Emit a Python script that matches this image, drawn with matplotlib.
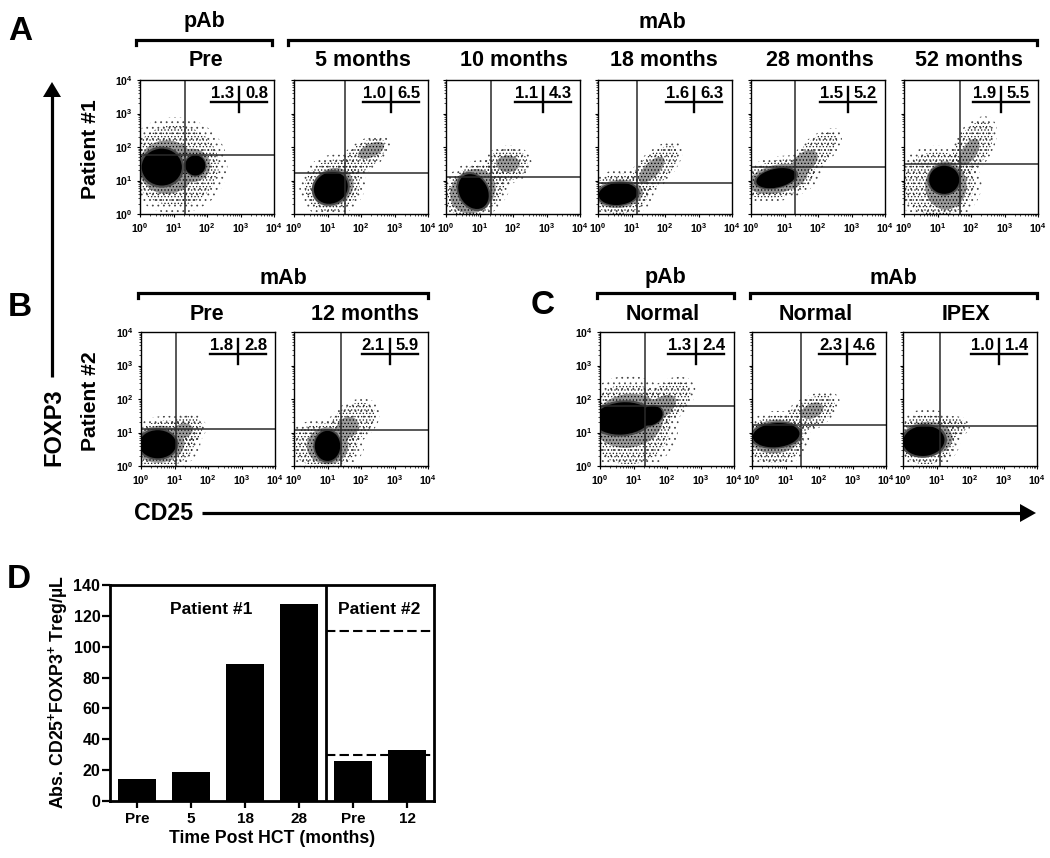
import matplotlib
matplotlib.use('Agg')
import numpy as np
import matplotlib.pyplot as plt
from matplotlib.patches import Ellipse, Polygon

plt.rcParams['font.family'] = ['Liberation Sans', 'DejaVu Sans']
plt.rcParams['font.weight'] = 'bold'
plt.rcParams['axes.labelweight'] = 'bold'
plt.rcParams['mathtext.fontset'] = 'custom'
plt.rcParams['mathtext.rm'] = 'Liberation Sans:bold'
plt.rcParams['mathtext.default'] = 'rm'
plt.rcParams['hatch.linewidth'] = 0.55

W, H = 1050, 858

# quadrantes (percentagens em cima, à esquerda | à direita)
titles = ['Pre', '5 months', '10 months', '18 months', '28 months', '52 months',
          'Pre', '12 months', 'Normal', 'Normal', 'IPEX']
stat_left = ['1.3', '1.0', '1.1', '1.6', '1.5', '1.9', '1.8', '2.1', '1.3', '2.3', '1.0']
stat_right = ['0.8', '6.5', '4.3', '6.3', '5.2', '5.5', '2.8', '5.9', '2.4', '4.6', '1.4']
gate_x = [1.35, 1.52, 1.34, 1.15, 1.32, 1.68, 1.05, 1.41, 1.34, 1.45, 1.10]
gate_y = [1.77, 1.21, 1.09, 0.93, 1.40, 1.49, 1.10, 1.07, 1.80, 1.23, 1.18]
ylabel_panels = [0, 6, 8]

# populações estimadas em décadas: x, y, raio x, raio y, ângulo, nível (0 ralo, 1 denso, 2 preto)
clouds = [
    [(1.05, 1.45, 1.3, 1.2, 0, 0), (0.8, 1.4, 0.85, 0.8, 0, 1), (1.55, 1.45, 0.55, 0.5, 0, 1),
     (0.65, 1.4, 0.6, 0.55, 0, 2), (1.65, 1.45, 0.3, 0.3, 0, 2)],
    [(1.15, 0.85, 0.85, 0.75, 30, 0), (2.05, 1.7, 0.8, 0.38, 35, 0), (1.15, 0.8, 0.65, 0.55, 30, 1),
     (2.3, 1.9, 0.42, 0.2, 25, 1), (1.1, 0.78, 0.52, 0.46, 30, 2)],
    [(0.85, 0.7, 0.95, 0.7, 30, 0), (1.82, 1.47, 0.62, 0.48, 10, 0), (0.8, 0.68, 0.72, 0.62, 40, 1),
     (1.85, 1.5, 0.35, 0.25, 0, 1), (0.82, 0.67, 0.42, 0.55, 30, 2)],
    [(0.65, 0.6, 0.85, 0.6, 5, 0), (1.65, 1.3, 0.95, 0.42, 45, 0), (0.62, 0.6, 0.72, 0.42, 5, 1),
     (1.6, 1.32, 0.5, 0.22, 45, 1), (0.6, 0.6, 0.58, 0.33, 5, 2)],
    [(0.8, 1.05, 1.1, 0.55, 12, 0), (1.9, 1.8, 0.85, 0.38, 42, 0), (0.8, 1.05, 0.9, 0.42, 12, 1),
     (1.6, 1.55, 0.45, 0.28, 40, 1), (0.75, 1.07, 0.6, 0.28, 12, 2)],
    [(1.0, 0.9, 1.1, 0.95, 0, 0), (2.05, 2.0, 0.85, 0.48, 58, 0), (1.25, 0.85, 0.62, 0.72, 0, 1),
     (1.95, 1.85, 0.45, 0.22, 58, 1), (1.2, 1.02, 0.45, 0.42, 0, 2)],
    [(0.65, 0.65, 0.95, 0.7, 10, 0), (1.3, 1.05, 0.55, 0.42, 20, 0), (0.55, 0.65, 0.75, 0.55, 5, 1),
     (1.25, 1.05, 0.3, 0.22, 15, 1), (0.5, 0.65, 0.55, 0.42, 0, 2)],
    [(0.9, 0.62, 1.0, 0.65, 0, 0), (1.75, 1.3, 0.75, 0.5, 35, 0), (1.0, 0.6, 0.62, 0.55, 0, 1),
     (1.6, 1.15, 0.35, 0.3, 40, 1), (1.0, 0.6, 0.38, 0.45, 0, 2)],
    [(0.85, 1.25, 1.25, 1.2, 0, 0), (1.95, 1.9, 0.85, 0.5, 35, 0), (0.85, 1.35, 1.05, 0.8, 10, 1),
     (1.75, 1.7, 0.6, 0.3, 35, 1), (0.67, 1.42, 0.85, 0.48, 5, 2), (1.5, 1.5, 0.38, 0.28, 20, 2)],
    [(0.7, 0.8, 0.85, 0.7, 10, 0), (1.7, 1.55, 0.85, 0.42, 30, 0), (0.7, 0.88, 0.78, 0.5, 5, 1),
     (1.8, 1.65, 0.35, 0.22, 25, 1), (0.72, 0.92, 0.7, 0.36, 5, 2)],
    [(0.7, 0.8, 0.85, 0.75, 5, 0), (1.35, 1.12, 0.55, 0.3, 10, 0), (0.7, 0.8, 0.78, 0.52, 5, 1),
     (0.62, 0.75, 0.62, 0.45, 5, 2)],
]

# gráfico de barras (D)
bar_labels = ['Pre', '5', '18', '28', 'Pre', '12']
bar_values = [14.5, 18.5, 89, 128, 26, 33]
normal_range = [30, 110.5]

# posição dos painéis em pixels
panel_left = [140, 294, 446, 598, 751, 904, 141, 294, 600, 752, 903]
panel_top = [80, 80, 80, 80, 80, 80, 332, 332, 332, 332, 332]
title_x = [206, 363, 514, 664, 820, 969, 207, 365, 663, 816, 966]
stat_x = [239, 391, 543, 694, 848, 1001, 238, 390, 696, 847, 999]
panel_size = 134

fig = plt.figure(figsize=(W / 100, H / 100), dpi=100, facecolor='white')


def px_axes(left, top, width, height):
    return fig.add_axes([left / W, 1 - (top + height) / H, width / W, height / H])


def blob(ax, c, scale=1.0, **kw):
    ax.add_patch(Ellipse((c[0], c[1]), 2 * c[2] * scale, 2 * c[3] * scale, angle=c[4], lw=0, **kw))


minor = [d + np.log10(m) for d in range(4) for m in range(2, 10)]

for i in range(len(titles)):
    ax = px_axes(panel_left[i], panel_top[i], panel_size, panel_size)
    ax.set_xlim(0, 4)
    ax.set_ylim(0, 4)
    # do mais ralo para o mais escuro; as margens primeiro, para não riscar os núcleos
    sparse = [c for c in clouds[i] if c[5] == 0]
    dense = [c for c in clouds[i] if c[5] == 1]
    core = [c for c in clouds[i] if c[5] == 2]
    for c in sparse:
        blob(ax, c, 1.2, fc='none', ec='#444444', hatch='...')
    for c in sparse:
        blob(ax, c, 1.0, fc='none', ec='#222222', hatch='.....')
    for c in dense:
        blob(ax, c, 1.0, fc='#9a9a9a', ec='black', hatch='.....')
    for c in core:
        blob(ax, c, 1.12, fc='#4a4a4a', ec='none')
    for c in core:
        blob(ax, c, 1.0, fc='black', ec='none')
    ax.axvline(gate_x[i], color='#2a2a2a', lw=1.1)
    ax.axhline(gate_y[i], color='#2a2a2a', lw=1.1)
    ax.set_xticks(range(5))
    ax.set_yticks(range(5))
    ax.set_xticklabels(['$10^{%d}$' % d for d in range(5)], fontsize=7.6)
    if i in ylabel_panels:
        ax.set_yticklabels(['$10^{%d}$' % d for d in range(5)], fontsize=7.6)
    else:
        ax.set_yticklabels([])
    ax.set_xticks(minor, minor=True)
    ax.set_yticks(minor, minor=True)
    ax.tick_params(which='major', length=2.5, width=0.8, pad=3)
    ax.tick_params(which='minor', length=1.3, width=0.5)
    for s in ax.spines.values():
        s.set_linewidth(1.0)

# eixo D
ax = px_axes(110, 585, 324, 216)
ax.bar(range(6), bar_values, width=0.72, color='black')
ax.set_xlim(-0.5, 5.5)
ax.set_ylim(0, 140)
ax.axvline(3.5, color='black', lw=2)
ax.hlines(normal_range, 3.5, 5.5, color='black', lw=1.5, linestyles=(0, (4.5, 2)))
ax.set_xticks(range(6))
ax.set_xticklabels(bar_labels, fontsize=11)
ax.set_yticks(range(0, 141, 20))
ax.tick_params(axis='y', labelsize=11.5, length=6, width=1.6, pad=1)
ax.tick_params(axis='x', length=5, width=1.6, pad=3)
for s in ax.spines.values():
    s.set_linewidth(2)
ax.set_xlabel('Time Post HCT (months)', fontsize=12.7, labelpad=3)

# camada por cima em pixels para rótulos, chavetas e setas
top = fig.add_axes([0, 0, 1, 1], facecolor='none')
top.set_xlim(0, W)
top.set_ylim(H, 0)
top.axis('off')


def bracket(x0, x1, y):
    top.plot([x0, x0, x1, x1], [y + 5, y, y, y + 5], color='black', lw=2.3, solid_joinstyle='miter')


def label(x, y, s, size, **kw):
    kw.setdefault('ha', 'center')
    kw.setdefault('va', 'center')
    top.text(x, y, s, fontsize=size, **kw)


for x0, x1, y, y_txt, s in [(136, 272, 40, 22, 'pAb'), (288, 1037, 40, 22, 'mAb'),
                            (138, 428, 293, 278, 'mAb'), (597, 734, 293, 278, 'pAb'),
                            (750, 1037, 293, 278, 'mAb')]:
    bracket(x0, x1, y)
    label((x0 + x1) / 2, y_txt, s, 15.5)

for i in range(len(titles)):
    y = 60 if panel_top[i] == 80 else 314
    label(title_x[i], y, titles[i], 15.5)
    cx = stat_x[i]
    y0 = panel_top[i]
    top.plot([cx - 28, cx + 28], [y0 + 22, y0 + 22], color='black', lw=1.7)
    top.plot([cx, cx], [y0 + 7, y0 + 32], color='black', lw=1.7)
    label(cx - 5, y0 + 18.5, stat_left[i], 12, ha='right', va='baseline')
    label(cx + 6, y0 + 18.5, stat_right[i], 12, ha='left', va='baseline')

for s, x, y in [('A', 20, 32), ('B', 20, 307), ('C', 543, 306), ('D', 19, 579)]:
    label(x, y, s, 24)

label(91, 149, 'Patient #1', 15.2, rotation=90)
label(91, 401, 'Patient #2', 15.2, rotation=90)
label(54, 427, 'FOXP3', 17, rotation=90)
label(134, 513, 'CD25', 16.7, ha='left')
label(211, 610, 'Patient #1', 12.5)
label(379, 610, 'Patient #2', 12.5)
label(58, 692, 'Abs. CD25$^{+}$FOXP3$^{+}$ Treg/µL', 12.8, rotation=90)

# setas
top.plot([52, 52], [377, 95], color='black', lw=2.3, solid_capstyle='butt')
top.add_patch(Polygon([[43, 97], [61, 97], [52, 82]], fc='black', ec='none'))
top.plot([202, 1022], [513, 513], color='black', lw=2.3, solid_capstyle='butt')
top.add_patch(Polygon([[1020, 504], [1020, 522], [1036, 513]], fc='black', ec='none'))

fig.savefig('out.png', dpi=100)
